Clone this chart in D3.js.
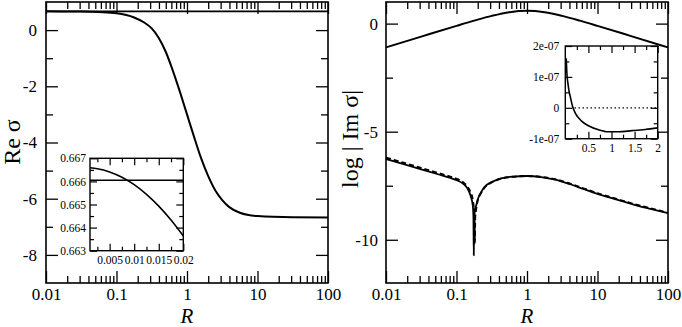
<!DOCTYPE html>
<html>
<head>
<meta charset="utf-8">
<script src="https://cdn.jsdelivr.net/npm/d3@7"></script>
<style>
  body { margin: 0; background: #fff; }
  svg { display: block; }
</style>
</head>
<body>
<svg id="chart" width="682" height="327"></svg>
<script>
// left panel : Re sigma vs R
var reR = [0.01, 0.0316, 0.0562, 0.1, 0.178, 0.251, 0.316, 0.398, 0.501, 0.631, 0.794, 1, 1.26, 1.58, 2, 2.51, 3.16, 3.98, 5.62, 10, 31.6, 100];
var reSigma = [0.667, 0.660, 0.640, 0.600, 0.450, 0.260, 0.060, -0.280, -0.780, -1.450, -2.200, -3.000, -3.800, -4.550, -5.200, -5.700, -6.050, -6.300, -6.500, -6.620, -6.660, -6.667];
var reFlat = 0.667;
var reTicksX = [0.01, 0.1, 1, 10, 100];
var reTicksY = [0, -2, -4, -6, -8];

// left inset
var inR = [0.001, 0.0025, 0.005, 0.0075, 0.01, 0.0125, 0.015, 0.0175, 0.02];
var inRe = [0.66659, 0.66655, 0.66641, 0.66618, 0.66586, 0.66544, 0.66493, 0.66433, 0.66364];
var inFlat = 0.66605;
var inTicksX = [0.005, 0.01, 0.015, 0.02];
var inTicksY = [0.663, 0.664, 0.665, 0.666, 0.667];

// right panel : log|Im sigma| vs R
var imR1 = [0.01, 0.0316, 0.1, 0.178, 0.316, 0.562, 1, 1.78, 3.16, 5.62, 10, 31.6, 100];
var imTop = [-1.10, -0.60, -0.104, 0.137, 0.359, 0.531, 0.599, 0.531, 0.359, 0.137, -0.104, -0.600, -1.100];
var imR2 = [0.01, 0.0178, 0.0316, 0.0562, 0.0794, 0.1, 0.126, 0.141, 0.158, 0.170, 0.1738, 0.1758, 0.1778, 0.182, 0.1905, 0.1995, 0.224, 0.251, 0.316, 0.398, 0.631, 1, 1.585, 2.512, 3.98, 6.31, 10, 17.8, 31.6, 56.2, 100];
var imLow = [-6.26, -6.50, -6.74, -6.98, -7.13, -7.24, -7.42, -7.60, -7.95, -8.40, -8.90, -10.72, -9.00, -8.60, -8.40, -8.15, -7.80, -7.55, -7.33, -7.19, -7.08, -7.05, -7.10, -7.22, -7.42, -7.65, -7.88, -8.12, -8.36, -8.57, -8.77];
var imR3 = [0.01, 0.0178, 0.0316, 0.0562, 0.0794, 0.1, 0.126, 0.141, 0.158, 0.170, 0.176, 0.180, 0.182, 0.184, 0.1905, 0.1995, 0.224, 0.251, 0.316, 0.398, 0.631, 1, 1.585, 2.512, 3.98, 6.31, 10, 17.8, 31.6, 56.2, 100];
var imLowDash = [-6.20, -6.44, -6.68, -6.92, -7.07, -7.18, -7.36, -7.52, -7.80, -8.15, -8.55, -9.00, -10.15, -9.00, -8.55, -8.20, -7.82, -7.58, -7.34, -7.20, -7.09, -7.05, -7.09, -7.20, -7.39, -7.62, -7.85, -8.09, -8.33, -8.54, -8.75];
var imTicksX = [0.01, 0.1, 1, 10, 100];
var imTicksY = [0, -5, -10];

// right inset : Im sigma
var in2R = [0.02, 0.035, 0.057, 0.08, 0.108, 0.158, 0.216, 0.36, 0.5, 0.72, 0.93, 1.15, 1.44, 1.73, 2.0];
var in2Im = [1.6e-7, 1.1e-7, 0.79e-7, 0.55e-7, 0.36e-7, 0.04e-7, -0.17e-7, -0.44e-7, -0.58e-7, -0.71e-7, -0.775e-7, -0.775e-7, -0.74e-7, -0.70e-7, -0.65e-7];
var in2Zero = [[0.2, 0], [2, 0]];
var in2TicksX = [0.5, 1, 1.5, 2];
var in2TicksY = [-1e-7, 0, 1e-7, 2e-7];
var in2LabelsY = ["-1e-07", "0", "1e-07", "2e-07"];

var serif = "'Liberation Serif', 'DejaVu Serif', serif";
var svg = d3.select("#chart").attr("font-family", serif);

function axes(g, x, y, o)
{
    var xa = x.range(), ya = y.range();
    var list = [
        {fn: d3.axisBottom, s: x, at: "translate(0," + ya[0] + ")", major: o.xMajor, minor: o.xMinor, fmt: o.xFmt, pad: o.xPad},
        {fn: d3.axisTop, s: x, at: "translate(0," + ya[1] + ")", major: o.xMajor, minor: o.xMinor, fmt: null},
        {fn: d3.axisLeft, s: y, at: "translate(" + xa[0] + ",0)", major: o.yMajor, minor: o.yMinor, fmt: o.yFmt, pad: o.yPad},
        {fn: d3.axisRight, s: y, at: "translate(" + xa[1] + ",0)", major: o.yMajor, minor: o.yMinor, fmt: null}
    ];
    list.forEach(function(a) {
        var maj = a.fn(a.s).tickValues(a.major).tickSize(-o.big).tickSizeOuter(0)
            .tickPadding(a.pad || 0).tickFormat(a.fmt ? a.fmt : function() { return ""; });
        var gm = g.append("g").attr("transform", a.at).call(maj);
        gm.select(".domain").remove();
        gm.attr("font-family", serif).attr("font-size", o.font);
        gm.selectAll("text").style("font-family", serif);
        gm.selectAll("line").attr("stroke-width", o.tw);
        var mi = a.fn(a.s).tickValues(a.minor).tickSize(-o.small).tickSizeOuter(0).tickFormat(function() { return ""; });
        var gn = g.append("g").attr("transform", a.at).call(mi);
        gn.select(".domain").remove();
        gn.selectAll("line").attr("stroke-width", o.tw);
    });
    g.append("rect")
        .attr("x", xa[0]).attr("y", ya[1])
        .attr("width", xa[1] - xa[0]).attr("height", ya[0] - ya[1])
        .attr("fill", "none").attr("stroke", "#000").attr("stroke-width", o.fw);
}

function logMinor(x)
{
    return x.ticks().filter(function(d) { return Math.abs(Math.log10(d) - Math.round(Math.log10(d))) > 1e-6; });
}

function curve(g, x, y, xs, ys, w, dash)
{
    var pts = xs.map(function(d, i) { return [d, ys[i]]; });
    var p = g.append("path")
        .datum(pts)
        .attr("fill", "none")
        .attr("stroke", "#000")
        .attr("stroke-width", w)
        .attr("stroke-linejoin", "round")
        .attr("d", d3.line().x(function(d) { return x(d[0]); }).y(function(d) { return y(d[1]); }).curve(d3.curveMonotoneX));
    if (dash) p.attr("stroke-dasharray", dash);
    return p;
}

// ---------- left panel
var xL = d3.scaleLog().domain([0.01, 100]).range([46, 328]);
var yL = d3.scaleLinear().domain([-9, 1]).range([283, 2]);
var gL = svg.append("g");
curve(gL, xL, yL, [0.01, 100], [reFlat, reFlat], 1.6);
curve(gL, xL, yL, reR, reSigma, 2);
axes(gL, xL, yL, {
    xMajor: reTicksX, xMinor: logMinor(xL), xFmt: function(d) { return String(d); }, xPad: 5,
    yMajor: reTicksY, yMinor: [-1, -3, -5, -7], yFmt: function(d) { return String(d); }, yPad: 9,
    big: 12, small: 7, font: 17, tw: 1.3, fw: 1.6
});

// left inset
var xI = d3.scaleLinear().domain([0.001, 0.02]).range([90, 183.3]);
var yI = d3.scaleLinear().domain([0.663, 0.667]).range([250.7, 158.3]);
var gI = svg.append("g");
gI.append("rect").attr("x", 90).attr("y", 158.3).attr("width", 93.3).attr("height", 92.4).attr("fill", "#fff");
curve(gI, xI, yI, [0.001, 0.02], [inFlat, inFlat], 1.6);
curve(gI, xI, yI, inR, inRe, 1.6);
axes(gI, xI, yI, {
    xMajor: inTicksX, xMinor: [0.0025, 0.0075, 0.0125, 0.0175], xFmt: function(d) { return String(d); }, xPad: 5,
    yMajor: inTicksY, yMinor: [0.6635, 0.6645, 0.6655, 0.6665], yFmt: d3.format(".3f"), yPad: 4,
    big: 7, small: 4, font: 11.5, tw: 1.2, fw: 1.4
});

// ---------- right panel
var xR = d3.scaleLog().domain([0.01, 100]).range([386, 668]);
var yR = d3.scaleLinear().domain([-12, 1]).range([283, 2]);
var gR = svg.append("g");
curve(gR, xR, yR, imR1, imTop, 2);
curve(gR, xR, yR, imR3, imLowDash, 2, "5,3");
curve(gR, xR, yR, imR2, imLow, 1.8);
axes(gR, xR, yR, {
    xMajor: imTicksX, xMinor: logMinor(xR), xFmt: function(d) { return String(d); }, xPad: 5,
    yMajor: imTicksY, yMinor: [-2.5, -7.5], yFmt: function(d) { return String(d); }, yPad: 8,
    big: 12, small: 7, font: 17, tw: 1.3, fw: 1.6
});

// right inset
var xJ = d3.scaleLinear().domain([0, 2]).range([565.3, 657.7]);
var yJ = d3.scaleLinear().domain([-1e-7, 2e-7]).range([138.7, 46]);
var gJ = svg.append("g");
gJ.append("rect").attr("x", 565.3).attr("y", 46).attr("width", 92.4).attr("height", 92.7).attr("fill", "#fff");
gJ.append("path")
    .datum(in2Zero)
    .attr("fill", "none").attr("stroke", "#000").attr("stroke-width", 1.3)
    .attr("stroke-dasharray", "1.5,2.5")
    .attr("d", d3.line().x(function(d) { return xJ(d[0]); }).y(function(d) { return yJ(d[1]); }));
curve(gJ, xJ, yJ, in2R, in2Im, 1.6);
axes(gJ, xJ, yJ, {
    xMajor: in2TicksX, xMinor: [0.25, 0.75, 1.25, 1.75], xFmt: function(d) { return String(d); }, xPad: 5,
    yMajor: in2TicksY, yMinor: [-0.5e-7, 0.5e-7, 1.5e-7], yFmt: function(d) { return in2LabelsY[in2TicksY.indexOf(d)]; }, yPad: 6,
    big: 7, small: 4, font: 11.5, tw: 1.2, fw: 1.4
});

// ---------- titles
function title(t, tr, size, italic)
{
    svg.append("text").attr("transform", tr).attr("text-anchor", "middle")
        .style("font-family", serif).attr("font-size", size)
        .attr("font-style", italic ? "italic" : null).text(t);
}
title("R", "translate(187,323)", 21, true);
title("R", "translate(527,323)", 21, true);
title("Re σ", "translate(20,142) rotate(-90)", 24, false);
title("log | Im σ|", "translate(358,139) rotate(-90)", 24, false);
</script>
</body>
</html>
